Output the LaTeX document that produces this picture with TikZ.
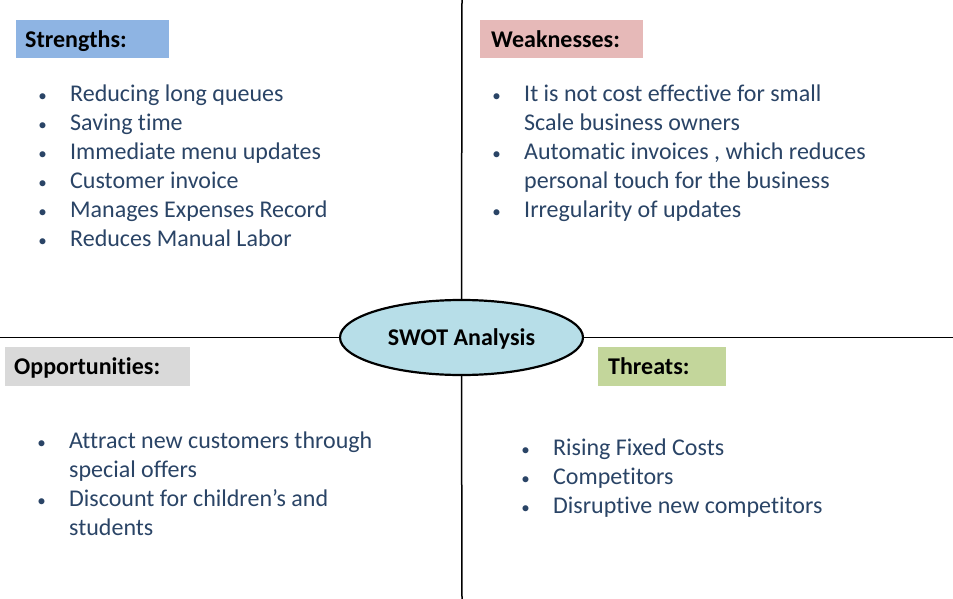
\documentclass[tikz,border=0pt]{standalone}
\usepackage{fontspec}
\setmainfont{Carlito}[Ligatures={NoCommon}]
\usetikzlibrary{shapes.geometric}
\definecolor{bodytext}{HTML}{2A4466}
\definecolor{sfill}{HTML}{8EB4E3}
\definecolor{wfill}{HTML}{E6B9B8}
\definecolor{ofill}{HTML}{D9D9D9}
\definecolor{tfill}{HTML}{C3D69B}
\definecolor{efill}{HTML}{B7DEE8}
\newcommand{\bul}{\llap{\makebox[55pt][c]{\fontsize{17}{20}\selectfont •}}}
\tikzset{
  hdrtext/.style={anchor=base west, inner sep=0, font=\fontsize{24}{29}\selectfont\bfseries, text=black},
  itemtext/.style={anchor=base west, inner sep=0, font=\fontsize{24}{29}\selectfont, text=bodytext},
  divider/.style={line width=1.5pt, black},
}
\begin{document}
\begin{tikzpicture}[x=1pt,y=-1pt]
\useasboundingbox[fill=white] (0,0) rectangle (953,599);
% divider end points
\coordinate (top) at (462,0);
\coordinate (bottom) at (462,599);
\coordinate (left) at (0,337.5);
\coordinate (right) at (953,337.5);
% header boxes
\fill[sfill] (16,20) rectangle (169,58);
\fill[wfill] (480,20) rectangle (643,58);
\fill[ofill] (5,347) rectangle (190,386);
\fill[tfill] (598,347) rectangle (726,386);
\node[hdrtext] (sh) at (25,48) {Strengths:};
\node[hdrtext] (wh) at (491,48) {Weaknesses:};
\node[hdrtext] (oh) at (14,374) {Opportunities:};
\node[hdrtext] (th) at (608,374) {Threats:};
% center ellipse
\node[ellipse, draw=black, line width=2.2pt, fill=efill, minimum width=243pt, minimum height=75pt, inner sep=0] (swot) at (461.5,337.5) {};
\node[anchor=base, inner sep=0, font=\fontsize{24}{29}\selectfont\bfseries] (swotl) at (461.5,345) {SWOT Analysis};
\draw[divider] (swot.north) -- (top);
\draw[divider] (swot.south) -- (bottom);
\draw[divider] (swot.west) -- (left);
\draw[divider] (swot.east) -- (right);
% strengths
\node[itemtext] (s1) at (70,101.5) {\bul Reducing long queues};
\node[itemtext] (s2) at (70,130.5) {\bul Saving time};
\node[itemtext] (s3) at (70,159.5) {\bul Immediate menu updates};
\node[itemtext] (s4) at (70,188.5) {\bul Customer invoice};
\node[itemtext] (s5) at (70,217.5) {\bul Manages Expenses Record};
\node[itemtext] (s6) at (70,246.5) {\bul Reduces Manual Labor};
% weaknesses
\node[itemtext] (w1) at (524,101.5) {\bul It is not cost effective for small};
\node[itemtext] (w2) at (524,130.5) {Scale business owners};
\node[itemtext] (w3) at (524,159.5) {\bul Automatic invoices , which reduces};
\node[itemtext] (w4) at (524,188.5) {personal touch for the business};
\node[itemtext] (w5) at (524,217.5) {\bul Irregularity of updates};
% opportunities
\node[itemtext] (o1) at (69,448.5) {\bul Attract new customers through};
\node[itemtext] (o2) at (69,477.5) {special offers};
\node[itemtext] (o3) at (69,506.5) {\bul Discount for children’s and};
\node[itemtext] (o4) at (69,535.5) {students};
% threats
\node[itemtext] (t1) at (553,455.5) {\bul Rising Fixed Costs};
\node[itemtext] (t2) at (553,484.5) {\bul Competitors};
\node[itemtext] (t3) at (553,513.5) {\bul Disruptive new competitors};
\end{tikzpicture}
\end{document}
